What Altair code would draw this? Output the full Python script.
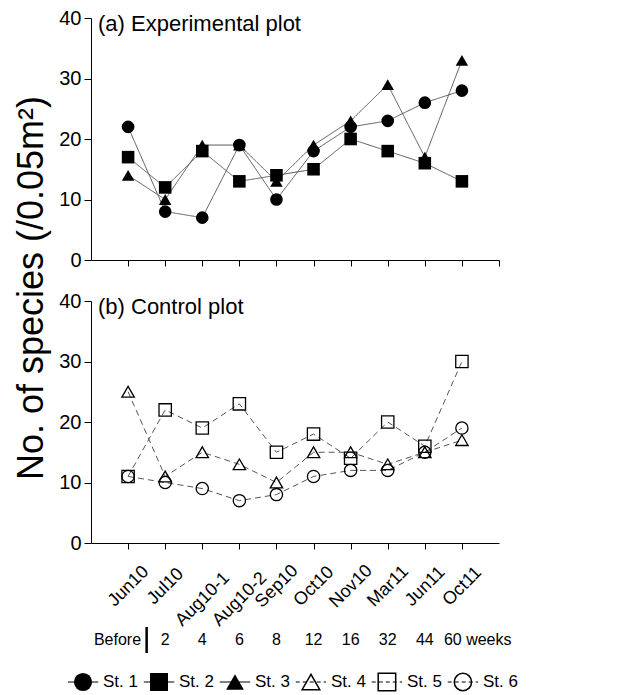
import altair as alt
import pandas as pd

months = ["Jun10", "Jul10", "Aug10-1", "Aug10-2", "Sep10", "Oct10", "Nov10", "Mar11", "Jun11", "Oct11"]
weeks = ["Before", "2", "4", "6", "8", "12", "16", "32", "44", "60 weeks"]
stations = ["St. 1", "St. 2", "St. 3", "St. 4", "St. 5", "St. 6"]
st1 = [22, 8, 7, 19, 10, 18, 22, 23, 26, 28]
st2 = [17, 12, 18, 13, 14, 15, 20, 18, 16, 13]
st3 = [14, 10, 19, 19, 13, 19, 23, 29, 17, 33]
st4 = [25, 11, 15, 13, 10, 15, 15, 13, 15, 17]
st5 = [11, 22, 19, 23, 15, 18, 14, 20, 16, 30]
st6 = [11, 10, 9, 7, 8, 11, 12, 12, 15, 19]
panel_titles = ["(a) Experimental plot", "(b) Control plot"]
y_title = "No. of species (/0.05m²)"

FONT = "Liberation Sans"
W, H = 408, 242


def station_df(names, series):
    rows = []
    for name, vals in zip(names, series):
        for i, (m, v) in enumerate(zip(months, vals)):
            rows.append({"station": name, "month": m, "pos": i + 1, "value": v})
    return pd.DataFrame(rows)


exp_df = station_df(stations[:3], [st1, st2, st3])
ctl_df = station_df(stations[3:], [st4, st5, st6])

shape_scale = alt.Scale(domain=stations,
                        range=["circle", "square", "triangle-up", "triangle-up", "square", "circle"])
size_scale = alt.Scale(domain=stations, range=[160, 150, 200, 210, 170, 180])
xscale = alt.Scale(domain=[0, len(months) + 1], nice=False, zero=False)
yscale = alt.Scale(domain=[0, 40], nice=False)

yaxis = alt.Axis(
    values=list(range(0, 41, 5)),
    labelExpr="datum.value % 10 === 0 ? datum.label : ''",
    tickSize={"condition": {"test": "datum.value % 10 !== 0", "value": 4}, "value": 7},
    labelFontSize=20, labelPadding=3, title=None, grid=False,
    labelOverlap=False, labelFlush=False,
)

label_list = "[" + ",".join("'" + m + "'" for m in months) + "]"
long_test = " || ".join(
    "datum.value === %d" % (i + 1) for i, m in enumerate(months) if len(m) > 5
)


def panel(df, title, open_marks, bottom):
    if bottom:
        xaxis = alt.Axis(
            values=list(range(1, len(months) + 1)),
            labelExpr=label_list + "[datum.value - 1]",
            labelAngle=-45, labelAlign="center", labelBaseline="middle",
            labelPadding={"condition": {"test": long_test, "value": 50}, "value": 37},
            labelFontSize=18, tickSize=6, labelOverlap=False, labelFlush=False,
            title=None, grid=False,
        )
    else:
        xaxis = alt.Axis(
            values=list(range(1, len(months) + 2)), labels=False, tickSize=6,
            title=None, grid=False,
        )
    base = alt.Chart(df)
    line = base.mark_line(
        color="#555555", strokeWidth=1,
        strokeDash=[6, 4] if open_marks else [1, 0],
    ).encode(
        x=alt.X("pos:Q", scale=xscale, axis=xaxis),
        y=alt.Y("value:Q", scale=yscale, axis=yaxis),
        detail="station:N",
    )
    if open_marks:
        pts = base.mark_point(filled=False, color="black", strokeWidth=1.3, opacity=1)
    else:
        pts = base.mark_point(filled=True, color="black", opacity=1)
    pts = pts.encode(
        x="pos:Q", y="value:Q",
        shape=alt.Shape("station:N", scale=shape_scale, legend=None),
        size=alt.Size("station:O", scale=size_scale, legend=None),
    )
    ttl = alt.Chart(pd.DataFrame({"t": [title]})).mark_text(
        align="left", baseline="middle", fontSize=22, color="black"
    ).encode(x=alt.value(7), y=alt.value(6), text="t:N")
    layers = [line, pts, ttl]
    if not bottom:
        yt = alt.Chart(pd.DataFrame({"t": [y_title]})).mark_text(
            angle=270, align="center", baseline="middle", fontSize=36, color="black"
        ).encode(x=alt.value(-59), y=alt.value(270), text="t:N")
        layers.append(yt)
    return alt.layer(*layers).properties(width=W, height=H)


top = panel(exp_df, panel_titles[0], False, False)
bottom = panel(ctl_df, panel_titles[1], True, True)

# footer: weeks row + legend row
WY = 56   # weeks row centre inside the footer
LY = 98   # legend row centre inside the footer

wk_df = pd.DataFrame({"w": weeks, "pos": list(range(1, len(weeks) + 1))})
wk_base = alt.Chart(wk_df)
wk_mid = wk_base.transform_filter("datum.pos > 1 && datum.pos < %d" % len(weeks)).mark_text(
    fontSize=16, color="black", align="center", baseline="middle"
).encode(x=alt.X("pos:Q", scale=xscale, axis=None), y=alt.value(WY), text="w:N")
wk_first = wk_base.transform_filter("datum.pos === 1").mark_text(
    fontSize=16, color="black", align="right", baseline="middle", dx=13
).encode(x=alt.X("pos:Q", scale=xscale, axis=None), y=alt.value(WY), text="w:N")
wk_last = wk_base.transform_filter("datum.pos === %d" % len(weeks)).mark_text(
    fontSize=16, color="black", align="left", baseline="middle", dx=-18
).encode(x=alt.X("pos:Q", scale=xscale, axis=None), y=alt.value(WY), text="w:N")
wk_bar = wk_base.transform_filter("datum.pos === 1").transform_calculate(
    mid="datum.pos + 0.5"
).mark_rule(color="black", strokeWidth=2.5).encode(
    x=alt.X("mid:Q", scale=xscale, axis=None), y=alt.value(WY - 13), y2=alt.value(WY + 13)
)
weeks_layer = alt.layer(wk_mid, wk_first, wk_last, wk_bar)

leg_df = pd.DataFrame({"station": stations, "idx": list(range(len(stations)))})
leg_x = alt.Scale(domain=[0.105, 5.475], nice=False, zero=False)
leg_size = alt.Scale(domain=stations, range=[330, 300, 420, 420, 300, 330])
lb = alt.Chart(leg_df).transform_calculate(x1="datum.idx - 0.2", x2="datum.idx + 0.2")
leg_solid = lb.transform_filter("datum.idx < 3").mark_rule(color="black", strokeWidth=1).encode(
    x=alt.X("x1:Q", scale=leg_x, axis=None), x2="x2:Q", y=alt.value(LY)
)
leg_dash = lb.transform_filter("datum.idx >= 3").mark_rule(
    color="black", strokeWidth=1, strokeDash=[4, 3]
).encode(x=alt.X("x1:Q", scale=leg_x, axis=None), x2="x2:Q", y=alt.value(LY))
leg_fill = lb.transform_filter("datum.idx < 3").mark_point(filled=True, color="black", opacity=1).encode(
    x=alt.X("idx:Q", scale=leg_x, axis=None), y=alt.value(LY),
    shape=alt.Shape("station:N", scale=shape_scale, legend=None),
    size=alt.Size("station:O", scale=leg_size, legend=None),
)
leg_open = lb.transform_filter("datum.idx >= 3").mark_point(
    filled=False, color="black", strokeWidth=1.5, opacity=1
).encode(
    x=alt.X("idx:Q", scale=leg_x, axis=None), y=alt.value(LY),
    shape=alt.Shape("station:N", scale=shape_scale, legend=None),
    size=alt.Size("station:O", scale=leg_size, legend=None),
)
leg_text = lb.mark_text(align="left", baseline="middle", dx=20, fontSize=17, color="black").encode(
    x=alt.X("idx:Q", scale=leg_x, axis=None), y=alt.value(LY), text="station:N"
)
legend_layer = alt.layer(leg_solid, leg_dash, leg_fill, leg_open, leg_text)

footer = alt.layer(weeks_layer, legend_layer).resolve_scale(
    x="independent", size="independent"
).properties(width=W, height=108)

chart = alt.vconcat(
    top, bottom, footer, spacing=41, bounds="flush",
).resolve_scale(size="independent").properties(
    padding={"left": 5, "top": 0, "right": 5, "bottom": 0}
).configure(
    font=FONT
).configure_axis(
    domainColor="black", tickColor="black", labelColor="black", domainWidth=1, tickWidth=1,
    labelFont=FONT,
).configure_view(stroke=None).configure_text(font=FONT)

chart.save("out.html", embed_options={"renderer": "svg", "actions": False})
